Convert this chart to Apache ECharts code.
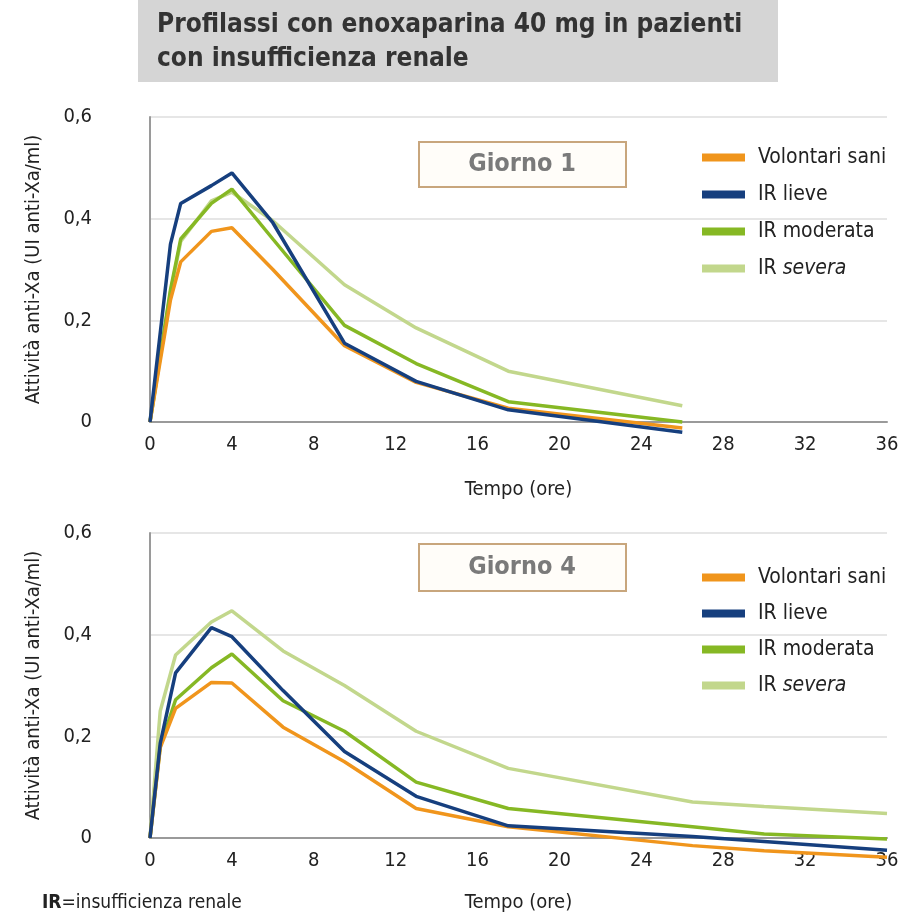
<!DOCTYPE html>
<html>
<head>
<meta charset="utf-8">
<script src="https://cdn.jsdelivr.net/npm/echarts@6/dist/echarts.min.js"></script>
<style>html,body{margin:0;padding:0;background:#fff}#c{width:910px;height:919px}</style>
</head>
<body>
<div id="c"></div>
<script>
// ---- Data ----
const seriesNames = ['Volontari sani', 'IR lieve', 'IR moderata', 'IR severa'];
const xTicks = [0, 4, 8, 12, 16, 20, 24, 28, 32, 36];
const yTicks = [0, 0.2, 0.4, 0.6];

// Giorno 1
const timeDay1 = [0, 1, 1.5, 3, 4, 6, 9.5, 13, 17.5, 26];
const saniDay1     = [0, 0.24, 0.315, 0.375, 0.382, 0.300, 0.150, 0.078, 0.027, -0.012];
const lieveDay1    = [0, 0.35, 0.430, 0.465, 0.490, 0.392, 0.155, 0.080, 0.024, -0.020];
const moderataDay1 = [0, 0.26, 0.360, 0.430, 0.458, 0.360, 0.190, 0.115, 0.040, 0.000];
const severaDay1   = [0, 0.255, 0.355, 0.435, 0.452, 0.396, 0.270, 0.185, 0.100, 0.032];

// Giorno 4
const timeDay4 = [0, 0.5, 1.25, 3, 4, 6.5, 9.5, 13, 17.5, 26.5, 30, 36];
const saniDay4     = [0, 0.178, 0.255, 0.306, 0.305, 0.218, 0.150, 0.058, 0.022, -0.015, -0.025, -0.038];
const lieveDay4    = [0, 0.186, 0.325, 0.414, 0.396, 0.290, 0.170, 0.082, 0.024, 0.003, -0.007, -0.024];
const moderataDay4 = [0, 0.180, 0.272, 0.335, 0.362, 0.270, 0.210, 0.110, 0.058, 0.022, 0.008, -0.002];
const severaDay4   = [0, 0.250, 0.360, 0.425, 0.447, 0.368, 0.300, 0.210, 0.137, 0.071, 0.062, 0.048];

const colors = ['#f0951c', '#163f7e', '#86b824', '#c2d78c'];
const FONT = '"Liberation Sans Narrow", "DejaVu Sans Condensed", "Liberation Sans", sans-serif';

function pairs(t, v) { return t.map((x, i) => [x, v[i]]); }

const day1 = [saniDay1, lieveDay1, moderataDay1, severaDay1];
const day4 = [saniDay4, lieveDay4, moderataDay4, severaDay4];
const zOrder = [4, 5, 3, 2];

const series = [];
day1.forEach((v, i) => series.push({
  name: seriesNames[i], type: 'line', xAxisIndex: 0, yAxisIndex: 0,
  data: pairs(timeDay1, v), showSymbol: false, clip: false,
  lineStyle: { color: colors[i], width: 3.5 }, itemStyle: { color: colors[i] },
  z: zOrder[i]
}));
day4.forEach((v, i) => series.push({
  name: seriesNames[i], type: 'line', xAxisIndex: 1, yAxisIndex: 1,
  data: pairs(timeDay4, v), showSymbol: false, clip: false,
  lineStyle: { color: colors[i], width: 3.5 }, itemStyle: { color: colors[i] },
  z: zOrder[i]
}));

function xAxis(gridIndex, nameGap) {
  return {
    type: 'value', gridIndex, min: 0, max: 36, interval: 4,
    name: 'Tempo (ore)', nameLocation: 'middle', nameGap,
    nameTextStyle: { color: '#222', fontSize: 20, fontFamily: FONT },
    axisLine: { show: true, onZero: false, lineStyle: { color: '#9a9a9a', width: 2 } },
    axisTick: { show: false },
    splitLine: { show: false },
    axisLabel: { color: '#222', fontSize: 20, fontFamily: FONT, margin: 13 }
  };
}
function yAxis(gridIndex) {
  return {
    type: 'value', gridIndex, min: 0, max: 0.6, interval: 0.2,
    name: 'Attività anti-Xa (UI anti-Xa/ml)', nameLocation: 'middle', nameGap: 106, nameRotate: 90,
    nameTextStyle: { color: '#222', fontSize: 20, fontFamily: FONT },
    axisLine: { show: true, lineStyle: { color: '#9a9a9a', width: 2 } },
    axisTick: { show: false },
    splitLine: { show: true, lineStyle: { color: '#dedede', width: 1.5 } },
    axisLabel: { color: '#222', fontSize: 20, fontFamily: FONT, margin: 58,
      formatter: v => (Math.round(v * 10) / 10).toString().replace('.', ',') }
  };
}

function legend(top, gap) {
  return {
    orient: 'vertical', left: 697, top, itemWidth: 43, itemHeight: 8, itemGap: gap,
    icon: 'rect', selectedMode: false,
    data: seriesNames,
    formatter: n => n === 'IR severa' ? '{n|IR }{i|severa}' : '{n|' + n + '}',
    textStyle: { color: '#222', fontSize: 21, fontFamily: FONT, padding: [0, 0, 0, 8],
      rich: { n: { fontSize: 21, fontFamily: FONT, color: '#222' },
              i: { fontSize: 21, fontFamily: FONT, color: '#222', fontStyle: 'italic' } } }
  };
}

function dayBox(y, h, label) {
  return {
    type: 'group', left: 418, top: y, children: [
      { type: 'rect', shape: { x: 0, y: 0, width: 207, height: h },
        style: { fill: '#fffdf9', stroke: '#c8a67d', lineWidth: 2 } },
      { type: 'text', style: { x: 103, y: h / 2, text: label, textAlign: 'center', textVerticalAlign: 'middle',
        fill: '#7a7a7a', font: 'bold 25px ' + FONT } }
    ]
  };
}

const chart = echarts.init(document.getElementById('c'));
chart.setOption({
  backgroundColor: '#fff',
  animation: false,
  grid: [
    { left: 150, top: 117, width: 737, height: 305 },
    { left: 150, top: 533, width: 737, height: 305 }
  ],
  xAxis: [xAxis(0, 58), xAxis(1, 55)],
  yAxis: [yAxis(0), yAxis(1)],
  legend: [legend(142, 16), legend(562, 15)],
  graphic: [
    { type: 'rect', left: 138, top: 0, shape: { width: 640, height: 82 }, style: { fill: '#d5d5d5' } },
    { type: 'text', left: 157, top: 8, style: {
      text: 'Profilassi con enoxaparina 40 mg in pazienti\ncon insufficienza renale',
      fill: '#333', font: 'bold 26px ' + FONT, lineHeight: 34 } },
    dayBox(141, 45, 'Giorno 1'),
    dayBox(543, 47, 'Giorno 4'),
    { type: 'text', left: 42, top: 894, style: {
      text: '{b|IR}{n|=insufficienza renale}',
      rich: { b: { fontWeight: 'bold', fontSize: 19, fontFamily: FONT, fill: '#222' },
              n: { fontSize: 19, fontFamily: FONT, fill: '#222' } } } }
  ],
  series
});
</script>
</body>
</html>
